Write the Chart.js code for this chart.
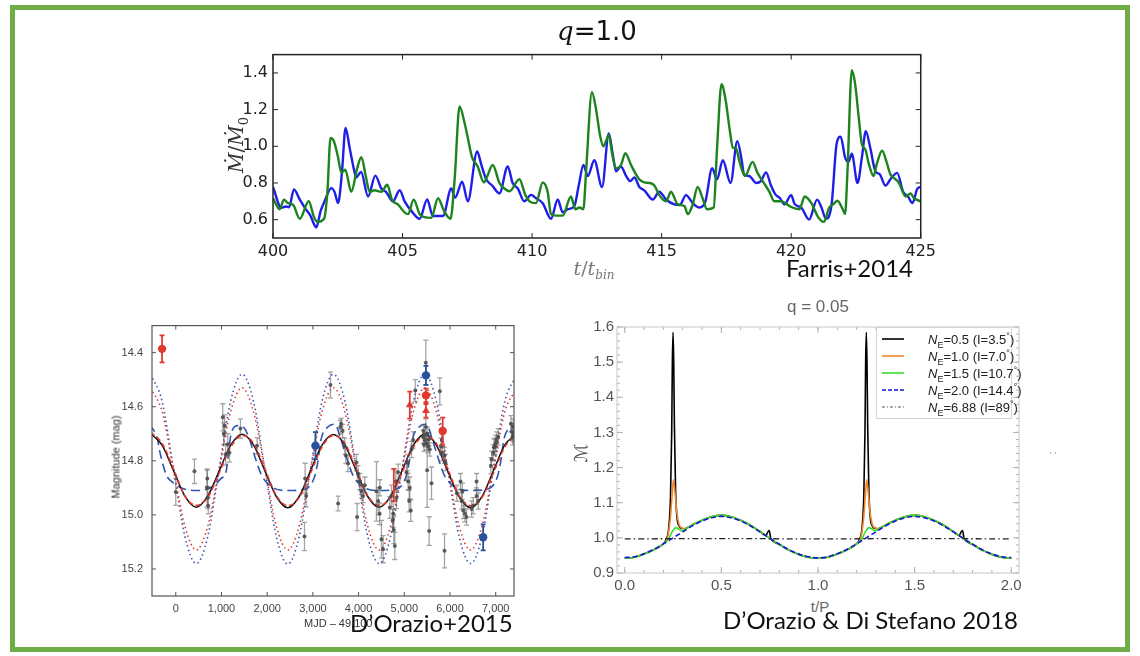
<!DOCTYPE html>
<html>
<head>
<meta charset="utf-8">
<script src="https://cdn.jsdelivr.net/npm/chart.js@4.4.0/dist/chart.umd.min.js"></script>
<style>
html, body { margin: 0; padding: 0; background: #fff; }
#page { position: relative; width: 1140px; height: 656px; overflow: hidden; font-family: 'Liberation Sans', Arial, sans-serif; }
#frame { position: absolute; left: 10px; top: 5px; width: 1110px; height: 637px; border: 5px solid #70ad47; }
canvas { position: absolute; }
.t { position: absolute; white-space: nowrap; line-height: 1; }
.c { transform: translate(-50%, -50%); }
.l { transform: translate(0, -50%); }
.r { transform: translate(-50%, -50%) rotate(-90deg); }
.cite { font-family: Lato, 'Open Sans', sans-serif; font-size: 24px; color: #111; }
#leg { position: absolute; left: 876px; top: 327px; width: 134px; height: 90px; border: 1px solid #d4d4d4; background: #fff; font-size: 13px; color: #222; }
#leg .row { position: absolute; left: 0; height: 16px; width: 134px; }
#leg svg { position: absolute; left: 5px; top: 3px; }
#leg span { position: absolute; left: 51px; top: 1px; white-space: nowrap; }
#leg sub, #leg sup { font-size: 9px; line-height: 0; }
</style>
</head>
<body>
<div id="page">
  <div id="frame"></div>
  <canvas id="c1" width="720" height="230" style="left:220px;top:40px"></canvas>
  <canvas id="c2" width="430" height="310" style="left:95px;top:310px"></canvas>
  <canvas id="c3" width="460" height="280" style="left:570px;top:315px"></canvas>

  <div class="t c" style="left:597px;top:31px;font-size:26px;color:#111"><i style="font-family:'DejaVu Serif'">q</i><span style="font-family:'DejaVu Sans'">=1.0</span></div>
  <div class="t r" style="left:238px;top:145px;font-family:'DejaVu Serif';font-size:20px;color:#333"><i>Ṁ</i>/<i>Ṁ</i><sub style="font-size:13px">0</sub></div>
  <div class="t c" style="left:594px;top:270px;font-family:'DejaVu Serif';font-size:19px;color:#777"><i>t</i>/<i>t</i><sub style="font-size:12px"><i>bin</i></sub></div>
  <div class="t l cite" style="left:786px;top:268px">Farris+2014</div>

  <div class="t r" style="left:116px;top:457px;font-size:11px;color:#333">Magnitude (mag)</div>
  <div class="t l" style="left:304px;top:623px;font-size:11px;color:#333">MJD – 49,100</div>
  <div class="t l cite" style="left:350px;top:623px">D’Orazio+2015</div>

  <div class="t c" style="left:818px;top:306px;font-size:17px;color:#666">q = 0.05</div>
  <div class="t r" style="left:581px;top:453px;font-size:18px;color:#555;font-family:'DejaVu Sans'">ℳ</div>
  <div class="t c" style="left:820px;top:606px;font-size:15px;color:#666">t/P</div>
  <div class="t r" style="left:1052px;top:453px;font-size:11px;color:#777">:</div>
  <div class="t l cite" style="left:723px;top:620px">D’Orazio &amp; Di Stefano 2018</div>

  <div id="leg">
    <div class="row" style="top:3px"><svg width="24" height="10"><line x1="0" y1="5" x2="22" y2="5" stroke="#000" stroke-width="1.6"/></svg><span><i>N</i><sub>E</sub>=0.5 (I=3.5<sup>°</sup>)</span></div>
    <div class="row" style="top:20px"><svg width="24" height="10"><line x1="0" y1="5" x2="22" y2="5" stroke="#f0852a" stroke-width="1.6"/></svg><span><i>N</i><sub>E</sub>=1.0 (I=7.0<sup>°</sup>)</span></div>
    <div class="row" style="top:37px"><svg width="24" height="10"><line x1="0" y1="5" x2="22" y2="5" stroke="#2ee02e" stroke-width="1.6"/></svg><span><i>N</i><sub>E</sub>=1.5 (I=10.7<sup>°</sup>)</span></div>
    <div class="row" style="top:54px"><svg width="24" height="10"><line x1="0" y1="5" x2="22" y2="5" stroke="#1414e0" stroke-width="1.6" stroke-dasharray="4 2"/></svg><span><i>N</i><sub>E</sub>=2.0 (I=14.4<sup>°</sup>)</span></div>
    <div class="row" style="top:71px"><svg width="24" height="10"><line x1="0" y1="5" x2="22" y2="5" stroke="#555" stroke-width="1" stroke-dasharray="3 2 1 2"/></svg><span><i>N</i><sub>E</sub>=6.88 (I=89<sup>°</sup>)</span></div>
  </div>
</div>

<script>
// ---- top panel (q = 1.0): accretion rate vs t/t_bin ----
const topXTicks = [400, 405, 410, 415, 420, 425]
const topYTicks = [0.6, 0.8, 1.0, 1.2, 1.4]

const blueT = [400.00, 400.32, 400.51, 400.62, 400.81, 401.03, 401.25, 401.45, 401.60, 401.67, 401.84, 401.99, 402.25, 402.38, 402.51, 402.66, 402.80, 402.96, 403.13, 403.21, 403.40, 403.67, 403.95, 404.18, 404.37, 404.63, 404.89, 405.08, 405.34, 405.66, 405.95, 406.17, 406.35, 406.56, 406.88, 407.03, 407.30, 407.52, 407.88, 408.04, 408.23, 408.46, 408.74, 409.06, 409.25, 409.45, 409.70, 409.96, 410.15, 410.41, 410.73, 410.99, 411.18, 411.38, 411.63, 411.80, 411.98, 412.15, 412.40, 412.70, 412.96, 413.11, 413.24, 413.43, 413.63, 413.79, 413.95, 414.14, 414.33, 414.66, 414.91, 415.17, 415.49, 415.70, 415.94, 416.20, 416.46, 416.69, 416.95, 417.14, 417.36, 417.66, 417.92, 418.09, 418.18, 418.38, 418.51, 418.64, 418.83, 419.03, 419.22, 419.39, 419.57, 419.74, 420.00, 420.13, 420.39, 420.69, 421.00, 421.17, 421.34, 421.56, 421.75, 421.91, 422.08, 422.21, 422.34, 422.56, 422.73, 422.88, 423.05, 423.25, 423.42, 423.64, 423.83, 424.09, 424.32, 424.51, 424.68, 424.87, 425.00]
const blueV = [0.778, 0.665, 0.672, 0.668, 0.765, 0.71, 0.66, 0.62, 0.57, 0.557, 0.648, 0.70, 0.772, 0.75, 0.69, 0.855, 1.10, 0.99, 0.87, 0.83, 0.86, 0.726, 0.84, 0.77, 0.75, 0.70, 0.76, 0.70, 0.648, 0.605, 0.71, 0.62, 0.62, 0.62, 0.77, 0.72, 0.807, 0.70, 0.972, 0.90, 0.82, 0.786, 0.743, 0.89, 0.80, 0.77, 0.70, 0.735, 0.717, 0.69, 0.605, 0.71, 0.64, 0.657, 0.674, 0.786, 0.898, 0.838, 0.924, 0.778, 1.07, 0.96, 0.864, 0.89, 0.838, 0.81, 0.83, 0.778, 0.76, 0.71, 0.752, 0.71, 0.683, 0.68, 0.734, 0.69, 0.666, 0.70, 0.88, 0.82, 0.924, 0.80, 1.028, 0.924, 0.847, 0.838, 0.82, 0.80, 0.81, 0.858, 0.786, 0.738, 0.717, 0.683, 0.734, 0.686, 0.666, 0.60, 0.709, 0.666, 0.605, 0.683, 1.01, 1.053, 0.94, 0.915, 0.959, 0.80, 0.94, 1.083, 0.993, 0.864, 0.847, 0.786, 0.82, 0.855, 0.752, 0.726, 0.69, 0.769, 0.778]

const greenT = [400.00, 400.26, 400.42, 400.58, 400.78, 401.03, 401.38, 401.58, 401.71, 401.97, 402.10, 402.22, 402.35, 402.51, 402.64, 402.79, 403.02, 403.25, 403.41, 403.58, 403.73, 403.92, 404.18, 404.41, 404.59, 404.82, 405.08, 405.21, 405.43, 405.66, 405.85, 406.11, 406.37, 406.60, 406.85, 407.01, 407.20, 407.39, 407.52, 407.68, 407.90, 408.14, 408.25, 408.48, 408.74, 408.93, 409.13, 409.51, 409.74, 409.90, 410.15, 410.41, 410.60, 410.73, 410.93, 411.18, 411.50, 411.67, 411.83, 411.98, 412.08, 412.31, 412.47, 412.62, 412.75, 412.85, 412.96, 413.09, 413.24, 413.43, 413.60, 413.82, 414.01, 414.14, 414.33, 414.53, 414.72, 414.91, 415.17, 415.36, 415.62, 415.88, 416.01, 416.20, 416.39, 416.58, 416.75, 417.01, 417.14, 417.31, 417.47, 417.62, 417.75, 417.87, 417.99, 418.12, 418.22, 418.51, 418.70, 418.90, 419.16, 419.35, 419.61, 419.81, 420.00, 420.32, 420.52, 420.78, 421.04, 421.26, 421.47, 421.62, 421.78, 421.99, 422.08, 422.17, 422.34, 422.47, 422.60, 422.73, 422.86, 422.99, 423.18, 423.31, 423.51, 423.68, 423.83, 424.03, 424.16, 424.42, 424.61, 424.74, 425.00]
const greenV = [0.717, 0.657, 0.709, 0.69, 0.68, 0.605, 0.70, 0.614, 0.588, 0.605, 0.752, 1.045, 1.028, 0.941, 0.855, 0.872, 0.752, 0.881, 0.941, 0.838, 0.752, 0.76, 0.752, 0.79, 0.709, 0.683, 0.64, 0.63, 0.709, 0.63, 0.614, 0.61, 0.717, 0.648, 0.605, 0.82, 1.217, 1.13, 1.045, 0.941, 0.89, 0.803, 0.83, 0.898, 0.80, 0.77, 0.755, 0.82, 0.734, 0.70, 0.69, 0.803, 0.752, 0.63, 0.622, 0.622, 0.726, 0.657, 0.666, 0.657, 0.855, 1.295, 1.20, 1.062, 1.00, 1.028, 1.062, 0.959, 0.881, 0.898, 0.962, 0.898, 0.847, 0.82, 0.803, 0.80, 0.786, 0.734, 0.70, 0.752, 0.683, 0.674, 0.63, 0.683, 0.778, 0.717, 0.657, 0.666, 0.993, 1.338, 1.252, 1.097, 0.993, 0.99, 0.924, 0.864, 0.838, 0.915, 0.855, 0.81, 0.752, 0.70, 0.70, 0.686, 0.669, 0.657, 0.726, 0.69, 0.614, 0.588, 0.666, 0.683, 0.703, 0.657, 0.63, 0.855, 1.415, 1.338, 1.166, 1.01, 0.984, 0.907, 0.838, 0.907, 0.976, 0.915, 0.847, 0.82, 0.80, 0.726, 0.743, 0.717, 0.70]

// ---- bottom left panel: magnitude vs MJD - 49,100 ----
const magXTicks = [0, 1000, 2000, 3000, 4000, 5000, 6000, 7000]
const magYTicks = [14.4, 14.6, 14.8, 15.0, 15.2]

const curveX = [-550, -300, -50, 200, 450, 700, 950, 1200, 1450, 1700, 1950, 2200, 2450, 2700, 2950, 3200, 3450, 3700, 3950, 4200, 4450, 4700, 4950, 5200, 5450, 5700, 5950, 6200, 6450, 6700, 6950, 7200, 7450]
const blackSolid = [14.70, 14.742, 14.836, 14.931, 14.972, 14.93, 14.838, 14.743, 14.702, 14.741, 14.837, 14.932, 14.974, 14.932, 14.836, 14.742, 14.703, 14.742, 14.838, 14.932, 14.972, 14.931, 14.837, 14.742, 14.701, 14.742, 14.838, 14.933, 14.973, 14.932, 14.837, 14.741, 14.702]
const redDashed = [14.695, 14.735, 14.83, 14.93, 14.965, 14.935, 14.845, 14.75, 14.706, 14.735, 14.83, 14.928, 14.966, 14.936, 14.845, 14.748, 14.706, 14.736, 14.831, 14.929, 14.965, 14.935, 14.844, 14.749, 14.707, 14.736, 14.83, 14.929, 14.966, 14.935, 14.845, 14.748, 14.706]
const blueDotted = [14.48, 14.58, 14.83, 15.08, 15.18, 15.08, 14.83, 14.58, 14.48, 14.58, 14.83, 15.08, 15.182, 15.08, 14.83, 14.58, 14.48, 14.58, 14.83, 15.08, 15.18, 15.08, 14.83, 14.58, 14.48, 14.58, 14.83, 15.08, 15.18, 15.08, 14.83, 14.58, 14.485]
const redDotted = [14.53, 14.618, 14.83, 15.042, 15.13, 15.042, 14.83, 14.618, 14.53, 14.618, 14.83, 15.042, 15.13, 15.042, 14.83, 14.618, 14.53, 14.618, 14.83, 15.042, 15.13, 15.042, 14.83, 14.618, 14.53, 14.618, 14.83, 15.042, 15.13, 15.042, 14.83, 14.618, 14.535]

const blueDashX = [-570, -400, -357, -212, -66, 116, 460, 810, 992, 1101, 1140, 1211, 1357, 1503, 1612, 1722, 1867, 2086, 2451, 2816, 3035, 3107, 3180, 3326, 3480, 3612, 3722, 3867, 4086, 4451, 4816, 5035, 5107, 5180, 5326, 5480, 5612, 5722, 5867, 6086, 6451, 6816, 7035, 7107, 7180, 7326, 7480]
const blueDashY = [14.665, 14.72, 14.76, 14.85, 14.88, 14.90, 14.91, 14.895, 14.865, 14.84, 14.79, 14.70, 14.67, 14.68, 14.72, 14.78, 14.85, 14.895, 14.91, 14.905, 14.86, 14.805, 14.72, 14.675, 14.665, 14.72, 14.78, 14.85, 14.895, 14.91, 14.905, 14.86, 14.805, 14.72, 14.675, 14.665, 14.72, 14.78, 14.85, 14.895, 14.91, 14.905, 14.86, 14.805, 14.72, 14.675, 14.665]

const greyX = [0, 409, 685, 700, 690, 710, 1028, 1050, 1070, 1137, 1174, 1090, 1415, 1780, 2830, 2852, 2816, 3385, 3552, 3600, 3650, 3620, 3697, 3720, 3770, 3954, 3990, 4026, 4063, 4099, 3968, 4136, 4391, 4428, 4464, 4500, 4537, 4460, 4683, 4719, 4756, 4770, 4792, 4745, 4829, 4815, 4865, 5048, 5084, 5120, 5106, 5142, 5070, 5157, 5194, 5240, 5412, 5449, 5485, 5522, 5558, 5430, 5500, 5470, 5420, 5540, 5470, 5500, 5544, 5595, 5777, 5800, 5820, 5830, 5880, 5900, 5880, 6150, 6253, 6289, 6326, 6362, 6270, 6230, 6472, 6508, 6581, 6617, 6581, 6894, 6909, 6946, 6982, 7019, 7055, 6960, 7000, 7333, 7347, 7383, 7369, 7390]
const greyY = [14.915, 14.839, 14.90, 14.937, 14.865, 14.966, 14.639, 14.70, 14.67, 14.74, 14.77, 14.776, 14.681, 14.744, 14.865, 14.93, 15.08, 14.52, 14.958, 14.675, 14.69, 14.663, 14.746, 14.78, 14.81, 14.806, 14.848, 14.877, 14.913, 14.93, 15.008, 14.89, 14.913, 14.949, 14.90, 15.09, 15.127, 14.996, 14.973, 14.93, 14.996, 15.056, 15.115, 15.02, 14.937, 14.877, 14.842, 14.842, 14.877, 14.90, 14.949, 14.984, 14.806, 14.758, 14.723, 14.54, 14.711, 14.723, 14.735, 14.746, 14.758, 14.74, 14.70, 14.675, 14.69, 14.72, 14.437, 14.835, 15.06, 14.883, 14.543, 14.746, 14.723, 14.77, 14.78, 14.806, 15.133, 14.92, 14.949, 14.984, 14.996, 15.008, 14.913, 14.877, 14.978, 14.966, 14.93, 14.949, 14.877, 14.818, 14.794, 14.77, 14.746, 14.723, 14.711, 14.75, 14.735, 14.663, 14.693, 14.675, 14.711, 14.70]
const greyErr = [0.05, 0.045, 0.07, 0.04, 0.03, 0.03, 0.05, 0.04, 0.04, 0.04, 0.035, 0.04, 0.036, 0.03, 0.056, 0.04, 0.052, 0.048, 0.027, 0.025, 0.025, 0.02, 0.03, 0.03, 0.03, 0.03, 0.03, 0.03, 0.025, 0.025, 0.05, 0.03, 0.11, 0.05, 0.03, 0.07, 0.05, 0.04, 0.04, 0.04, 0.05, 0.05, 0.05, 0.04, 0.04, 0.04, 0.03, 0.03, 0.03, 0.04, 0.04, 0.04, 0.03, 0.03, 0.03, 0.04, 0.025, 0.025, 0.025, 0.025, 0.025, 0.025, 0.025, 0.03, 0.025, 0.025, 0.083, 0.137, 0.053, 0.06, 0.05, 0.03, 0.03, 0.03, 0.03, 0.03, 0.063, 0.03, 0.03, 0.03, 0.03, 0.03, 0.03, 0.03, 0.03, 0.03, 0.03, 0.03, 0.03, 0.03, 0.03, 0.03, 0.03, 0.03, 0.03, 0.03, 0.03, 0.03, 0.03, 0.03, 0.03, 0.03]

const redCircX = [-300, 5474, 5840]
const redCircY = [14.386, 14.558, 14.69]
const redCircErr = [0.05, 0.025, 0.05]
const redTriX = [5120, 5474]
const redTriY = [14.594, 14.615]
const redTriErr = [0.05, 0.025]
const redBarX = [4770]
const redBarY = [14.89]
const redBarErr = [0.06]
const blueCircX = [3056, 5474, 6725]
const blueCircY = [14.744, 14.484, 15.083]
const blueCircErr = [0.05, 0.035, 0.048]

// ---- bottom right panel (q = 0.05): M vs t/P ----
const qXTicks = [0, 0.5, 1.0, 1.5, 2.0]
const qYTicks = [0.9, 1.0, 1.1, 1.2, 1.3, 1.4, 1.5, 1.6]

const ne20T = [0, 0.05, 0.1, 0.15, 0.2, 0.25, 0.3, 0.35, 0.4, 0.45, 0.5, 0.55, 0.6, 0.65, 0.7, 0.75, 0.8, 0.85, 0.9, 0.95, 1.0, 1.05, 1.1, 1.15, 1.2, 1.25, 1.3, 1.35, 1.4, 1.45, 1.5, 1.55, 1.6, 1.65, 1.7, 1.75, 1.8, 1.85, 1.9, 1.95, 2.0]
const ne20V = [0.944, 0.946, 0.955, 0.967, 0.983, 1.0, 1.017, 1.034, 1.048, 1.057, 1.061, 1.057, 1.048, 1.034, 1.017, 0.999, 0.982, 0.966, 0.954, 0.946, 0.943, 0.946, 0.955, 0.967, 0.983, 1.0, 1.017, 1.034, 1.048, 1.057, 1.061, 1.057, 1.048, 1.034, 1.017, 0.999, 0.982, 0.966, 0.954, 0.946, 0.944]

const ne15T = [0, 0.05, 0.1, 0.15, 0.2, 0.225, 0.245, 0.265, 0.28, 0.295, 0.315, 0.35, 0.4, 0.45, 0.5, 0.55, 0.6, 0.65, 0.7, 0.75, 0.8, 0.85, 0.9, 0.95, 1.0, 1.05, 1.1, 1.15, 1.2, 1.225, 1.245, 1.265, 1.28, 1.295, 1.315, 1.35, 1.4, 1.45, 1.5, 1.55, 1.6, 1.65, 1.7, 1.75, 1.8, 1.85, 1.9, 1.95, 2.0]
const ne15V = [0.942, 0.945, 0.954, 0.966, 0.983, 0.995, 1.017, 1.029, 1.025, 1.02, 1.025, 1.037, 1.05, 1.06, 1.064, 1.06, 1.05, 1.036, 1.018, 0.999, 0.981, 0.965, 0.953, 0.945, 0.942, 0.945, 0.954, 0.966, 0.983, 0.995, 1.017, 1.029, 1.025, 1.02, 1.025, 1.037, 1.05, 1.06, 1.064, 1.06, 1.05, 1.036, 1.018, 0.999, 0.981, 0.965, 0.953, 0.945, 0.942]

const ne10T = [0, 0.05, 0.1, 0.15, 0.2, 0.22, 0.235, 0.245, 0.252, 0.26, 0.27, 0.28, 0.29, 0.31, 0.35, 0.4, 0.45, 0.5, 0.55, 0.6, 0.65, 0.7, 0.75, 0.8, 0.85, 0.9, 0.95, 1.0, 1.05, 1.1, 1.15, 1.2, 1.22, 1.235, 1.245, 1.252, 1.26, 1.27, 1.28, 1.29, 1.31, 1.35, 1.4, 1.45, 1.5, 1.55, 1.6, 1.65, 1.7, 1.75, 1.8, 1.85, 1.9, 1.95, 2.0]
const ne10V = [0.942, 0.945, 0.954, 0.966, 0.983, 0.998, 1.05, 1.12, 1.165, 1.13, 1.07, 1.04, 1.03, 1.026, 1.037, 1.05, 1.06, 1.064, 1.06, 1.05, 1.036, 1.018, 0.999, 0.981, 0.965, 0.953, 0.945, 0.942, 0.945, 0.954, 0.966, 0.983, 0.998, 1.05, 1.12, 1.165, 1.13, 1.07, 1.04, 1.03, 1.026, 1.037, 1.05, 1.06, 1.064, 1.06, 1.05, 1.036, 1.018, 0.999, 0.981, 0.965, 0.953, 0.945, 0.942]

const ne05T = [0, 0.05, 0.1, 0.15, 0.2, 0.215, 0.228, 0.237, 0.243, 0.2465, 0.25, 0.2535, 0.257, 0.263, 0.27, 0.28, 0.29, 0.31, 0.35, 0.4, 0.45, 0.5, 0.55, 0.6, 0.65, 0.7, 0.73, 0.742, 0.748, 0.755, 0.765, 0.8, 0.85, 0.9, 0.95, 1.0, 1.05, 1.1, 1.15, 1.2, 1.215, 1.228, 1.237, 1.243, 1.2465, 1.25, 1.2535, 1.257, 1.263, 1.27, 1.28, 1.29, 1.31, 1.35, 1.4, 1.45, 1.5, 1.55, 1.6, 1.65, 1.7, 1.73, 1.742, 1.748, 1.755, 1.765, 1.8, 1.85, 1.9, 1.95, 2.0]
const ne05V = [0.942, 0.945, 0.954, 0.966, 0.983, 0.996, 1.03, 1.12, 1.30, 1.50, 1.585, 1.50, 1.32, 1.14, 1.06, 1.035, 1.028, 1.026, 1.037, 1.05, 1.06, 1.064, 1.06, 1.05, 1.036, 1.018, 1.007, 1.018, 1.021, 1.0, 0.992, 0.981, 0.965, 0.953, 0.945, 0.942, 0.945, 0.954, 0.966, 0.983, 0.996, 1.03, 1.12, 1.30, 1.50, 1.585, 1.50, 1.32, 1.14, 1.06, 1.035, 1.028, 1.026, 1.037, 1.05, 1.06, 1.064, 1.06, 1.05, 1.036, 1.018, 1.007, 1.018, 1.021, 1.0, 0.992, 0.981, 0.965, 0.953, 0.945, 0.942]

const ne688T = [0, 0.5, 1.0, 1.5, 2.0]
const ne688V = [0.997, 0.998, 0.997, 0.998, 0.997]

function toXY(xs, ys) {
    return xs.map((x, i) => ({x: x, y: ys[i]}))
}

// box round the plot area and tick marks pointing inwards
const frameTicks = {
    id: 'frameTicks',
    afterDatasetsDraw(chart, args, opts) {
        const ctx = chart.ctx
        const a = chart.chartArea
        const x = chart.scales.x, y = chart.scales.y
        ctx.save()
        ctx.strokeStyle = opts.tickColor || opts.color
        ctx.lineWidth = opts.tickWidth || 1
        const vTick = (v, len) => {
            const p = x.getPixelForValue(v)
            ctx.beginPath()
            ctx.moveTo(p, a.bottom); ctx.lineTo(p, a.bottom - len)
            ctx.moveTo(p, a.top); ctx.lineTo(p, a.top + len)
            ctx.stroke()
        }
        const hTick = (v, len) => {
            const p = y.getPixelForValue(v)
            ctx.beginPath()
            ctx.moveTo(a.left, p); ctx.lineTo(a.left + len, p)
            ctx.moveTo(a.right, p); ctx.lineTo(a.right - len, p)
            ctx.stroke()
        }
        x.ticks.forEach(t => vTick(t.value, opts.len))
        y.ticks.forEach(t => hTick(t.value, opts.len))
        if (opts.xMinor) {
            for (let v = Math.ceil(x.min / opts.xMinor) * opts.xMinor; v <= x.max; v += opts.xMinor) vTick(v, opts.minorLen)
        }
        if (opts.yMinor) {
            for (let v = Math.ceil(y.min / opts.yMinor) * opts.yMinor; v <= y.max + 1e-9; v += opts.yMinor) hTick(v, opts.minorLen)
        }
        ctx.strokeStyle = opts.color
        ctx.lineWidth = opts.width
        ctx.strokeRect(a.left, a.top, a.right - a.left, a.bottom - a.top)
        ctx.restore()
    }
}

// vertical error bars, drawn just under the dataset that owns them
const errorBars = {
    id: 'errorBars',
    beforeDatasetDraw(chart, args) {
        const ds = chart.data.datasets[args.index]
        if (!ds.errors) return
        const ctx = chart.ctx
        const a = chart.chartArea
        const x = chart.scales.x, y = chart.scales.y
        ctx.save()
        ctx.beginPath()
        ctx.rect(a.left, a.top, a.right - a.left, a.bottom - a.top)
        ctx.clip()
        ctx.strokeStyle = ds.errorColor
        ctx.lineWidth = ds.errorWidth || 1.2
        ds.data.forEach((d, i) => {
            const px = x.getPixelForValue(d.x)
            const y1 = y.getPixelForValue(d.y - ds.errors[i])
            const y2 = y.getPixelForValue(d.y + ds.errors[i])
            ctx.beginPath()
            ctx.moveTo(px, y1); ctx.lineTo(px, y2)
            ctx.moveTo(px - 2.5, y1); ctx.lineTo(px + 2.5, y1)
            ctx.moveTo(px - 2.5, y2); ctx.lineTo(px + 2.5, y2)
            ctx.stroke()
        })
        ctx.restore()
    }
}

function axis(min, max, tickList, fmt, font, color, pad, fit, isX, extra) {
    let s = {
        type: 'linear',
        min: min,
        max: max,
        grid: {display: false, drawTicks: false},
        border: {display: false},
        afterBuildTicks: sc => { sc.ticks = tickList.map(v => ({value: v})) },
        ticks: {color: color, font: font, padding: pad, autoSkip: false, maxRotation: 0, callback: fmt}
    }
    if (isX) s.afterFit = sc => { sc.height = fit }
    else s.afterFit = sc => { sc.width = fit }
    return Object.assign(s, extra || {})
}

function line(data, color, width, dash, order) {
    return {
        data: data,
        showLine: true,
        borderColor: color,
        borderWidth: width,
        borderDash: dash || [],
        pointRadius: 0,
        cubicInterpolationMode: 'monotone',
        order: order || 0
    }
}

function baseOptions(padding, frame, scales) {
    return {
        responsive: false,
        animation: false,
        devicePixelRatio: 1,
        events: [],
        layout: {autoPadding: false, padding: padding},
        plugins: {legend: {display: false}, tooltip: {enabled: false}, frameTicks: frame},
        scales: scales
    }
}

// top panel
const topFont = {family: 'DejaVu Sans', size: 16}
new Chart(document.getElementById('c1'), {
    type: 'scatter',
    data: {
        datasets: [
            line(toXY(greenT, greenV), '#1d831d', 2.4),
            line(toXY(blueT, blueV), '#1e1ee8', 2.4)
        ]
    },
    options: baseOptions({top: 7, right: 19, left: 0, bottom: 0},
        {color: '#222', width: 1.5, len: 5, tickWidth: 1},
        {
            x: axis(400, 425, topXTicks, v => String(v), topFont, '#222', 4, 32, true),
            y: axis(0.5, 1.5, topYTicks, v => v.toFixed(1), topFont, '#222', 5, 53, false)
        }),
    plugins: [frameTicks]
})

// bottom left panel
const smallFont = {family: 'Liberation Sans', size: 11}
const greyPts = {
    data: toXY(greyX, greyY), errors: greyErr, errorColor: 'rgba(90,90,90,0.55)', errorWidth: 1.3,
    backgroundColor: 'rgba(70,70,70,0.85)', borderWidth: 0, pointRadius: 2, order: 2
}
const redCirc = {
    data: toXY(redCircX, redCircY), errors: redCircErr, errorColor: '#e03a30', errorWidth: 1.8,
    backgroundColor: '#e03a30', borderWidth: 0, pointRadius: 4.2, order: 0
}
const redTri = {
    data: toXY(redTriX, redTriY), errors: redTriErr, errorColor: '#e03a30', errorWidth: 1.8,
    backgroundColor: '#e03a30', borderWidth: 0, pointStyle: 'triangle', pointRadius: 4.5, order: 0
}
const redBar = {
    data: toXY(redBarX, redBarY), errors: redBarErr, errorColor: '#e03a30', errorWidth: 1.8,
    pointRadius: 0, order: 0
}
const blueCirc = {
    data: toXY(blueCircX, blueCircY), errors: blueCircErr, errorColor: '#2c4f9e', errorWidth: 1.8,
    backgroundColor: '#2c4f9e', borderWidth: 0, pointRadius: 4.2, order: 0
}
new Chart(document.getElementById('c2'), {
    type: 'scatter',
    data: {
        datasets: [
            redCirc, redTri, redBar, blueCirc, greyPts,
            line(toXY(curveX, redDashed), '#e0352b', 1.6, [5, 3], 3),
            line(toXY(curveX, blackSolid), '#111', 1.5, [], 4),
            line(toXY(blueDashX, blueDashY), '#2e55b3', 1.6, [9, 5], 5),
            line(toXY(curveX, redDotted), '#e23b33', 1.6, [1.5, 3], 6),
            line(toXY(curveX, blueDotted), '#3658b8', 1.6, [1.5, 3], 7)
        ]
    },
    options: baseOptions({top: 7, right: 11, left: 0, bottom: 0},
        {color: '#555', width: 1.2, len: 4, tickWidth: 1},
        {
            x: axis(-520, 7400, magXTicks, v => v.toLocaleString('en-US'), smallFont, '#444', 6, 24, true),
            y: axis(14.3, 15.3, magYTicks, v => v.toFixed(1), smallFont, '#444', 9, 57, false, {reverse: true})
        }),
    plugins: [errorBars, frameTicks]
})

// bottom right panel
const qFont = {family: 'Liberation Sans', size: 15}
new Chart(document.getElementById('c3'), {
    type: 'scatter',
    data: {
        datasets: [
            line(toXY(ne05T, ne05V), '#000', 1.6, [], 4),
            line(toXY(ne10T, ne10V), '#f0852a', 1.6, [], 3),
            line(toXY(ne15T, ne15V), '#2ee02e', 1.6, [], 2),
            line(toXY(ne20T, ne20V), '#1414e0', 1.6, [5, 3], 1),
            line(toXY(ne688T, ne688V), '#222', 1.3, [6, 3, 1.5, 3], 0)
        ]
    },
    options: baseOptions({top: 9, right: 11, left: 0, bottom: 0},
        {color: '#c8c8c8', tickColor: '#b0b0b0', width: 1, len: 6, minorLen: 3, xMinor: 0.1, yMinor: 0.02, tickWidth: 1},
        {
            x: axis(-0.04, 2.04, qXTicks, v => v.toFixed(1), qFont, '#555', 4, 22, true),
            y: axis(0.9, 1.6, qYTicks, v => v.toFixed(1), qFont, '#555', 3, 47, false)
        }),
    plugins: [frameTicks]
})
</script>
</body>
</html>
